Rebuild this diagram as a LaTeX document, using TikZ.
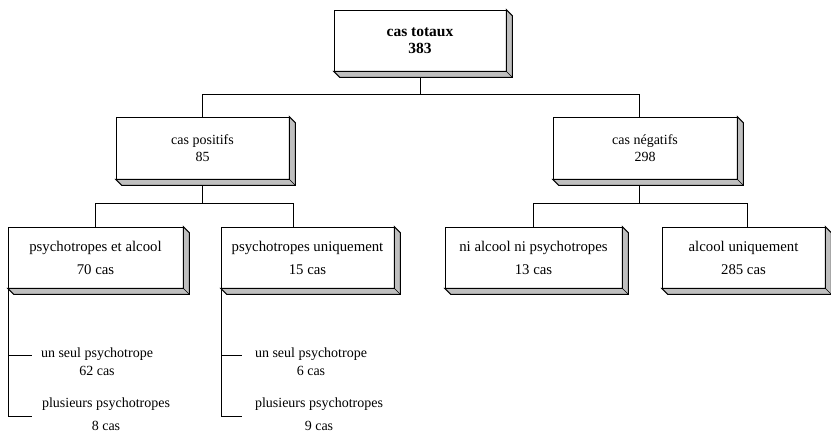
\documentclass[tikz,border=0pt]{standalone}
\usepackage{fontspec}
\setmainfont{Liberation Serif}
\tikzset{
  frontbox/.style={draw, fill=white, line width=0.7pt, inner sep=0pt, align=center},
  shadowpart/.style={fill=gray!50, draw=black, line width=1pt, line join=miter},
  link/.style={line width=0.6pt},
  subtext/.style={inner sep=0pt, align=center, font=\fontsize{14}{18}\selectfont},
  lvlone/.style={font=\fontsize{14}{17}\selectfont, minimum height=62pt},
  lvltwo/.style={font=\fontsize{14.8}{23}\selectfont, minimum height=61pt},
}
\newcommand\boxshadow[1]{%
  \filldraw[shadowpart] (#1.south west) -- ++(6,6) -- ([shift={(6,6)}]#1.south east)
    -- ([shift={(6,6)}]#1.north east) -- (#1.north east) -- (#1.south east) -- cycle;
  \draw[line width=0.7pt] (#1.south east) -- ++(6,6);}
\begin{document}
\begin{tikzpicture}[x=1pt,y=-1pt]
\useasboundingbox (0,0) rectangle (831,437);
% boxes
\node[frontbox, minimum width=172pt, minimum height=61pt, font=\fontsize{15.5}{17}\selectfont\bfseries] (top) at (420,40.5) {cas totaux\\383};
\node[frontbox, lvlone, minimum width=173pt] (pos) at (202.5,148) {cas positifs\\85};
\node[frontbox, lvlone, minimum width=184pt] (neg) at (645,148) {cas négatifs\\298};
\node[frontbox, lvltwo, minimum width=175pt] (pa) at (95.5,257.5) {psychotropes et alcool\\70 cas};
\node[frontbox, lvltwo, minimum width=173pt] (pu) at (307.5,257.5) {psychotropes uniquement\\15 cas};
\node[frontbox, lvltwo, minimum width=177pt] (nn) at (533.5,257.5) {ni alcool ni psychotropes\\13 cas};
\node[frontbox, lvltwo, minimum width=163pt] (au) at (743.5,257.5) {alcool uniquement\\285 cas};
\boxshadow{top}
\boxshadow{pos}
\boxshadow{neg}
\boxshadow{pa}
\boxshadow{pu}
\boxshadow{nn}
\boxshadow{au}
% connectors level 1
\draw[link] ([yshift=-6pt]top.south) -- ++(0,17) coordinate (j1);
\draw[link] (pos.north) -- (pos.north |- j1) -- ([xshift=-6pt]neg.north |- j1) -- ([xshift=-6pt]neg.north);
% connectors level 2
\draw[link] ([yshift=-6pt]pos.south) -- ++(0,18) coordinate (j2);
\draw[link] (pa.north) -- (pa.north |- j2) -- ([xshift=-14pt]pu.north |- j2) -- ([xshift=-14pt]pu.north);
\draw[link] ([xshift=-6pt,yshift=-6pt]neg.south) -- ++(0,18) coordinate (j3);
\draw[link] (nn.north) -- (nn.north |- j3) -- ([xshift=4pt]au.north |- j3) -- ([xshift=4pt]au.north);
% sub items
\node[subtext] (s1) at (97,362) {un seul psychotrope\\62 cas};
\node[subtext] (s2) at (106,414) {plusieurs psychotropes\\[5pt]8 cas};
\node[subtext] (s3) at (311,362) {un seul psychotrope\\6 cas};
\node[subtext] (s4) at (319,414) {plusieurs psychotropes\\[5pt]9 cas};
\coordinate (t1) at (32,355);
\coordinate (t2) at (32,416);
\coordinate (t3) at (242,355);
\coordinate (t4) at (242,416);
\draw[link] ([xshift=1pt]pa.south west) -- ([xshift=1pt]pa.south west |- t2) -- (t2);
\draw[link] ([xshift=1pt]pa.south west |- t1) -- (t1);
\draw[link] ([xshift=1pt]pu.south west) -- ([xshift=1pt]pu.south west |- t4) -- (t4);
\draw[link] ([xshift=1pt]pu.south west |- t3) -- (t3);
\end{tikzpicture}
\end{document}
